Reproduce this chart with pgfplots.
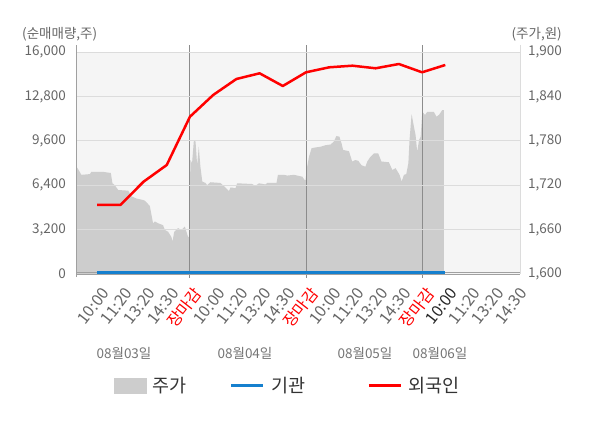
\documentclass[border=0pt]{standalone}
\usepackage{pgfplots}
\pgfplotsset{compat=1.18}
\usepackage{fontspec}
\setmainfont{Noto Sans CJK KR}
\definecolor{bgc}{HTML}{F5F5F5}
\definecolor{areac}{HTML}{CDCDCD}
\definecolor{gridc}{HTML}{DCDCDC}
\definecolor{sepc}{HTML}{8C8C8C}
\definecolor{axc}{HTML}{A0A0A0}
\definecolor{txtc}{HTML}{666666}
\definecolor{legc}{HTML}{333333}
\definecolor{bluec}{RGB}{22,128,206}
\definecolor{redc}{RGB}{255,0,0}
\begin{document}
\begin{tikzpicture}
\useasboundingbox (0,0) rectangle (600bp,428bp);
% price axis (right)
\begin{axis}[
  at={(76bp,154bp)}, anchor=south west,
  width=444bp, height=222bp, scale only axis,
  xmin=0.09, xmax=19.22, ymin=1600, ymax=1900,
  axis background/.style={fill=bgc},
  axis x line=none,
  axis y line*=right,
  y axis line style={draw=gridc},
  ytick={1600,1660,1720,1780,1840,1900},
  major tick length=0pt,
  /pgf/number format/assume math mode=true,
  /pgf/number format/1000 sep={,},
  yticklabel style={font=\fontsize{13.5bp}{15bp}\selectfont, text=txtc, inner sep=0pt, anchor=west, xshift=8bp},
  clip=false,
]
\addplot[fill=areac, draw=none] coordinates {
(0.09,1600) (0.09,1709.5) (0.14,1743.7) (0.25,1738) (0.32,1734) (0.69,1735) (0.75,1738)
(1.26,1738) (1.59,1736.5) (1.66,1722.6) (1.76,1720) (1.91,1713.5) (2.34,1712.6) (2.48,1705)
(2.69,1702) (2.98,1700) (3.06,1699) (3.27,1692) (3.41,1668.5) (3.49,1671) (3.63,1668.5)
(3.84,1666) (3.92,1659.5) (4.06,1657) (4.20,1650) (4.25,1644) (4.32,1657) (4.49,1662)
(4.63,1659.5) (4.78,1664) (4.92,1650) (4.97,1650) (5.02,1754) (5.09,1749.6) (5.17,1781)
(5.24,1779) (5.31,1747) (5.38,1772) (5.45,1745) (5.53,1725) (5.67,1723) (5.74,1720)
(5.88,1724) (6.31,1723) (6.46,1719) (6.60,1714.5) (6.68,1712) (6.75,1717) (6.96,1716)
(7.03,1722.6) (7.68,1721.6) (7.82,1719) (7.97,1722.6) (8.25,1721) (8.33,1723) (8.73,1723)
(8.79,1734) (9.05,1734) (9.19,1733) (9.48,1734) (9.84,1731.5) (9.94,1727) (9.98,1727)
(10.05,1745) (10.13,1758.5) (10.24,1770) (10.41,1771) (10.63,1772) (10.84,1774) (11.06,1775)
(11.20,1779) (11.31,1786.5) (11.44,1785.5) (11.53,1776.6) (11.60,1767.6) (11.85,1766)
(11.99,1752) (12.13,1754) (12.25,1753) (12.39,1747) (12.56,1745) (12.64,1752) (12.78,1758.5)
(12.93,1763) (13.11,1763) (13.25,1752) (13.57,1751) (13.72,1740.5) (13.86,1743) (14.03,1734)
(14.12,1725) (14.22,1734) (14.32,1735) (14.41,1749.6) (14.46,1781) (14.55,1816) (14.65,1799)
(14.72,1788) (14.79,1765) (14.87,1781) (14.94,1785.5) (15.01,1819) (15.13,1815) (15.22,1819)
(15.51,1819) (15.62,1812.6) (15.73,1815) (15.87,1821.6) (15.94,1821.6) (15.94,1600)
};
\draw[gridc, line width=1bp] ([yshift=7bp]rel axis cs:1,1) -- (rel axis cs:1,0);
\draw[sepc, line width=1bp] ([yshift=-4bp]axis cs:5,1600) -- ([yshift=7bp]axis cs:5,1900);
\draw[sepc, line width=1bp] ([yshift=-4bp]axis cs:10,1600) -- ([yshift=7bp]axis cs:10,1900);
\draw[sepc, line width=1bp] ([yshift=-4bp]axis cs:15,1600) -- ([yshift=7bp]axis cs:15,1900);
\end{axis}
% volume axis (left)
\begin{axis}[
  at={(76bp,154bp)}, anchor=south west,
  width=444bp, height=222bp, scale only axis,
  xmin=0.09, xmax=19.22, ymin=0, ymax=16000,
  axis line style={draw=none},
  ymajorgrids, grid style={gridc, line width=0.8bp},
  ytick={0,3200,6400,9600,12800,16000},
  xtick={1,...,19},
  xticklabels={10:00,11:20,13:20,14:30,\textcolor{red}{장마감},10:00,11:20,13:20,14:30,\textcolor{red}{장마감},10:00,11:20,13:20,14:30,\textcolor{red}{장마감},\textcolor{black!85}{10:00},11:20,13:20,14:30},
  major tick length=0pt,
  scaled y ticks=false,
  /pgf/number format/assume math mode=true,
  /pgf/number format/1000 sep={,},
  yticklabel style={font=\fontsize{13.5bp}{15bp}\selectfont, text=txtc, inner sep=0pt, anchor=east, xshift=-10bp},
  xticklabel style={font=\fontsize{16bp}{18bp}\selectfont, text=txtc, inner sep=0pt, anchor=east, xshift=8.5bp, yshift=-16bp, rotate=52},
  clip=false,
  legend columns=3,
  legend style={at={(0.0856,-0.502)}, anchor=west, draw=none, fill=none, inner sep=0pt, outer sep=0pt,
    font=\fontsize{18.5bp}{20bp}\selectfont, text=legc,
    nodes={inner sep=0pt},
    /tikz/every odd column/.append style={column sep=6.5bp}},
]
\draw[axc, line width=1bp] ([yshift=-3bp]rel axis cs:0,0) -- ([yshift=7bp]rel axis cs:0,1);
\draw[axc, line width=0.8bp] (rel axis cs:0,0) -- (rel axis cs:1,0);
\addlegendimage{legend image code/.code={\fill[areac] (0bp,-7.5bp) rectangle (32bp,7.5bp);}}
\addlegendentry{\makebox[77bp][l]{주가}}
\addplot[axc, line width=0.8bp, forget plot] coordinates {(0.09,130) (19.22,130)};
\addplot[bluec, line width=3bp, legend image code/.code={\draw[bluec, line width=3bp] (0bp,0bp) -- (32bp,0bp);}] coordinates {
(1,110) (2,110) (3,110) (4,110) (5,110) (6,110) (7,110) (8,110) (9,110) (10,110) (11,110) (12,110) (13,110) (14,110) (15,110) (16,110)};
\addlegendentry{\makebox[96bp][l]{기관}}
\addplot[redc, line width=2.5bp, line join=round, legend image code/.code={\draw[redc, line width=3bp] (0bp,0bp) -- (32bp,0bp);}] coordinates {
(1,4973) (2,4973) (3,6652) (4,7856) (5,11337) (6,12901) (7,14054) (8,14465) (9,13550) (10,14537) (11,14897) (12,15013) (13,14826) (14,15135) (15,14537) (16,15063)};
\addlegendentry{외국인}
\end{axis}
\node[anchor=west, inner sep=0pt, text=txtc, font=\fontsize{13.5bp}{15bp}\selectfont] at (22bp,394bp) {(순매매량,주)};
\node[anchor=east, inner sep=0pt, text=txtc, font=\fontsize{13.5bp}{15bp}\selectfont] at (562bp,394bp) {(주가,원)};
\foreach \px/\lab in {124/08월03일, 245/08월04일, 365/08월05일, 440/08월06일} {
  \node[inner sep=0pt, text=txtc!90, font=\fontsize{13.5bp}{15bp}\selectfont] at (\px bp,75bp) {\lab};
}
\end{tikzpicture}
\end{document}
